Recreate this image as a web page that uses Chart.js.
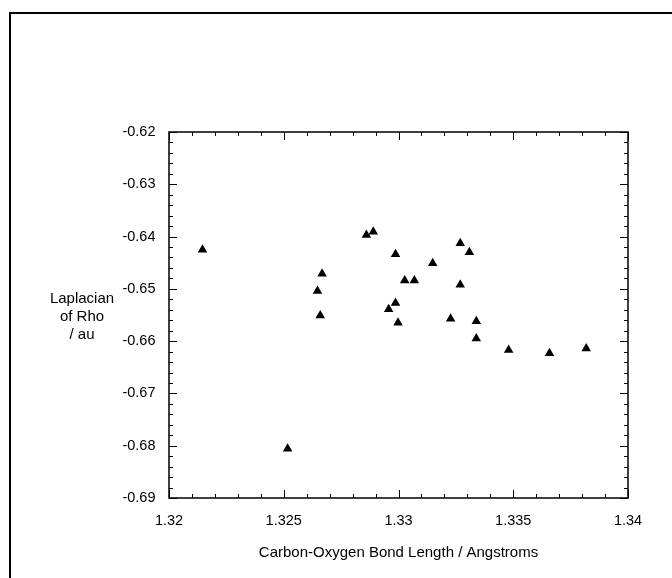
<!DOCTYPE html>
<html>
<head>
<meta charset="utf-8">
<script src="https://cdn.jsdelivr.net/npm/chart.js@4.4.1/dist/chart.umd.min.js"></script>
<style>
html, body { margin: 0; padding: 0; background: #fff; }
</style>
</head>
<body>
<canvas id="myChart" width="672" height="578"></canvas>
<script>
// valores
const longitudEnlace = [1.32146, 1.32517, 1.32860, 1.32890, 1.33269, 1.33309, 1.32987, 1.33149,
    1.32667, 1.33027, 1.33069, 1.32647, 1.33269, 1.32987, 1.32957, 1.32659, 1.33227, 1.33339,
    1.32998, 1.33339, 1.33480, 1.33658, 1.33818]
const laplaciano = [-0.6425, -0.6806, -0.6397, -0.6391, -0.6413, -0.6430, -0.6434, -0.6451,
    -0.6471, -0.6484, -0.6484, -0.6504, -0.6492, -0.6527, -0.6539, -0.6551, -0.6557, -0.6562,
    -0.6565, -0.6595, -0.6617, -0.6623, -0.6614]
const ticksX = [1.32, 1.325, 1.33, 1.335, 1.34]
const ticksY = [-0.69, -0.68, -0.67, -0.66, -0.65, -0.64, -0.63, -0.62]
const tituloX = "Carbon-Oxygen Bond Length / Angstroms"
const tituloY = ["Laplacian", "of Rho", "/ au"]

const fuente = '"Liberation Sans", Arial, sans-serif'

var ctx = document.getElementById("myChart").getContext("2d");

const marco = {
    id: 'marco',
    afterDraw(chart) {
        const c = chart.ctx
        const area = chart.chartArea
        const sx = chart.scales.x, sy = chart.scales.y
        c.save()
        c.strokeStyle = '#000'

        // recuadro exterior
        c.lineWidth = 2
        c.beginPath()
        c.moveTo(10, 600)
        c.lineTo(10, 13)
        c.lineTo(700, 13)
        c.stroke()

        // recuadro del area
        c.lineWidth = 1.5
        c.strokeRect(area.left, area.top, area.right - area.left, area.bottom - area.top)

        // marcas mayores y menores hacia dentro
        c.lineWidth = 1
        c.beginPath()
        for (let i = 0; i < ticksX.length; i++) {
            let pasos = i < ticksX.length - 1 ? 5 : 1
            for (let k = 0; k < pasos; k++) {
                let v = i < ticksX.length - 1 ? ticksX[i] + (ticksX[i + 1] - ticksX[i]) * k / 5 : ticksX[i]
                let px = Math.round(sx.getPixelForValue(v)) + 0.5
                let largo = k == 0 ? 8 : 4
                c.moveTo(px, area.bottom); c.lineTo(px, area.bottom - largo)
                c.moveTo(px, area.top); c.lineTo(px, area.top + largo)
            }
        }
        for (let i = 0; i < ticksY.length; i++) {
            let pasos = i < ticksY.length - 1 ? 5 : 1
            for (let k = 0; k < pasos; k++) {
                let v = i < ticksY.length - 1 ? ticksY[i] + (ticksY[i + 1] - ticksY[i]) * k / 5 : ticksY[i]
                let py = Math.round(sy.getPixelForValue(v)) + 0.5
                let largo = k == 0 ? 8 : 4
                c.moveTo(area.left, py); c.lineTo(area.left + largo, py)
                c.moveTo(area.right, py); c.lineTo(area.right - largo, py)
            }
        }
        c.stroke()

        // titulo del eje y, horizontal en tres lineas
        c.fillStyle = '#000'
        c.font = '15px ' + fuente
        c.textAlign = 'center'
        c.textBaseline = 'middle'
        let medio = (area.top + area.bottom) / 2 + 2
        tituloY.forEach(function(linea, i) {
            c.fillText(linea, 82, medio + (i - 1) * 18)
        })
        c.restore()
    }
}

const config = {
    type: 'scatter',
    data: {
        datasets: [{
            data: longitudEnlace.map((x, i) => ({x: x, y: laplaciano[i]})),
            pointStyle: 'triangle',
            pointRadius: 5.5,
            backgroundColor: '#000',
            borderColor: '#000',
            borderWidth: 0
        }]
    },
    options: {
        responsive: false,
        animation: false,
        events: [],
        layout: {padding: {top: 132, right: 44, left: 0, bottom: 0}},
        plugins: {legend: {display: false}, tooltip: {enabled: false}},
        scales: {
            x: {
                type: 'linear',
                min: ticksX[0],
                max: ticksX[ticksX.length - 1],
                afterBuildTicks: (s) => { s.ticks = ticksX.map(v => ({value: v})) },
                afterFit: (s) => { s.height = 80 },
                grid: {display: false, drawTicks: false},
                border: {display: false},
                ticks: {
                    padding: 14,
                    color: '#000',
                    font: {family: fuente, size: 14.5},
                    maxRotation: 0,
                    callback: (v) => Number(v.toFixed(3)).toString()
                },
                title: {
                    display: true,
                    text: tituloX,
                    color: '#000',
                    font: {family: fuente, size: 15},
                    padding: {top: 0, bottom: 16}
                }
            },
            y: {
                type: 'linear',
                min: ticksY[0],
                max: ticksY[ticksY.length - 1],
                afterBuildTicks: (s) => { s.ticks = ticksY.map(v => ({value: v})) },
                afterFit: (s) => { s.width = 169 },
                grid: {display: false, drawTicks: false},
                border: {display: false},
                ticks: {
                    padding: 13.5,
                    color: '#000',
                    font: {family: fuente, size: 14.5},
                    callback: (v) => Number(v.toFixed(2)).toString()
                }
            }
        }
    },
    plugins: [marco]
}

var myChart = new Chart(ctx, config)
</script>
</body>
</html>
